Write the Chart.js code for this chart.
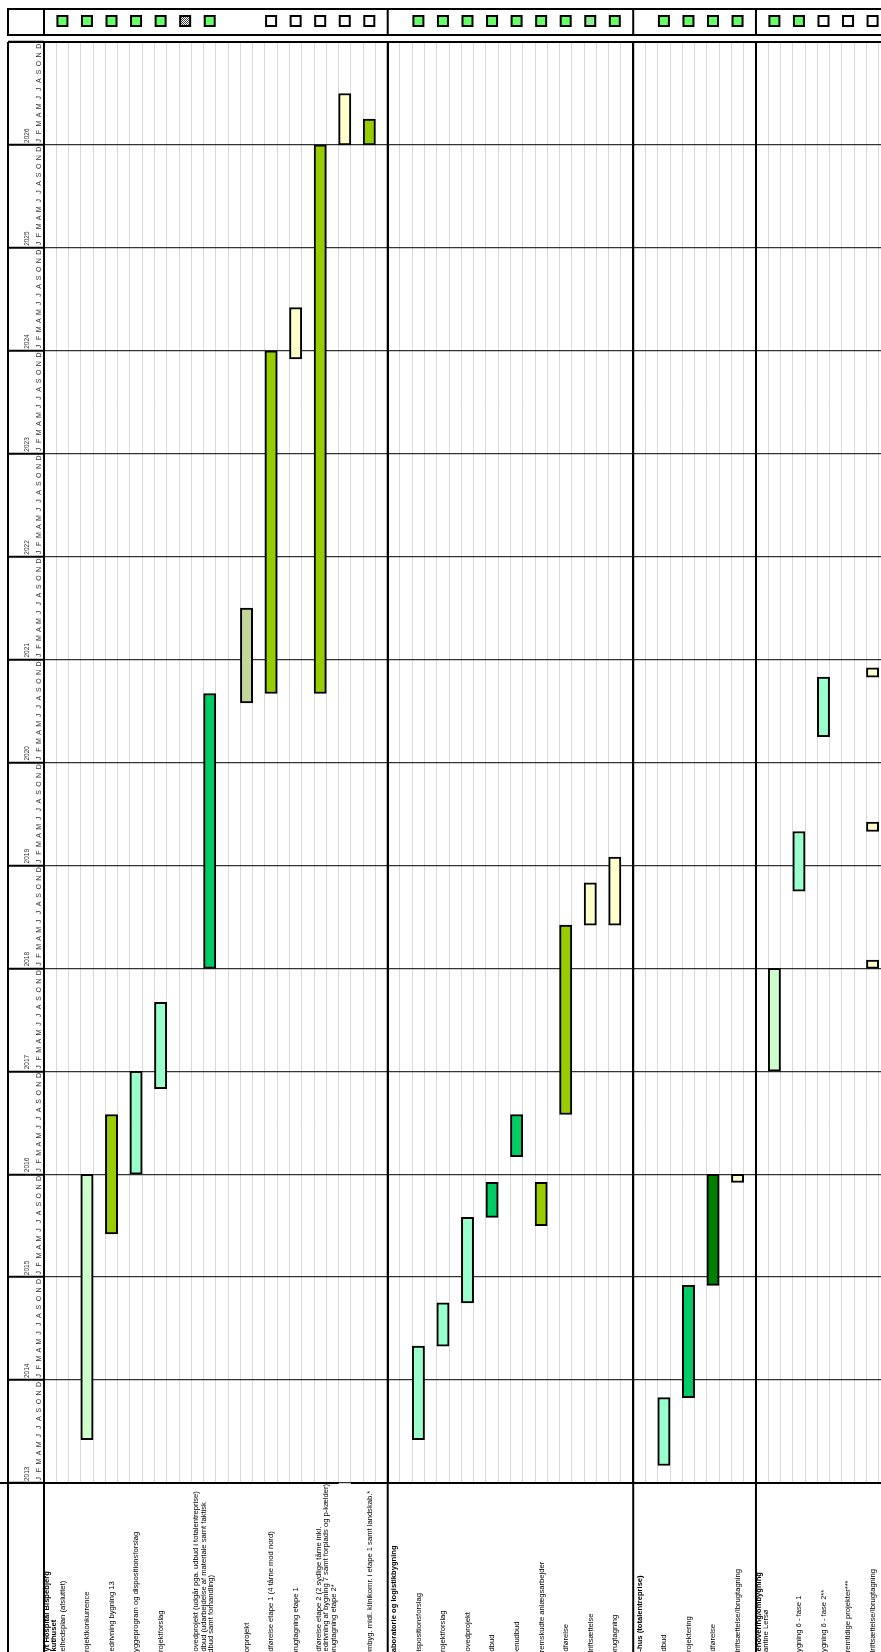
<!DOCTYPE html>
<html>
<head>
<meta charset="utf-8">
<script src="https://cdn.jsdelivr.net/npm/chart.js@4.4.1/dist/chart.umd.min.js"></script>
<style>
  html, body { margin: 0; padding: 0; background: #fff; overflow: hidden; }
  canvas { display: block; }
</style>
</head>
<body>
<canvas id="gantt" width="900" height="1652"></canvas>
<script>
// one category per sheet row
const rowIds = [
  0, 1, 2, 3, 4, 5, 6, 7, 8, 9, 10, 11, 12, 13, 14, 15, 16, 17, 18, 19,
  20, 21, 22, 23, 24, 25, 26, 27, 28, 29, 30, 31, 32, 33, 34, 35, 36, 37, 38, 39,
  40, 41, 42, 43, 44, 45, 46, 47, 48, 49, 50, 51, 52, 53, 54, 55, 56, 57, 58, 59,
  60, 61, 62, 63, 64, 65, 66, 67, 68
];
// first row of each block (Akuthuset, Laboratorie, C-hus, Renovering)
const sectionRows = [0, 28, 48, 58];

const years = [2013, 2014, 2015, 2016, 2017, 2018, 2019, 2020, 2021, 2022, 2023, 2024, 2025, 2026];
const months = ['J', 'F', 'M', 'A', 'M', 'J', 'J', 'A', 'S', 'O', 'N', 'D'];

// row texts (several lines in one cell stack towards the left)
const labelRows = [0, 1, 3, 5, 7, 9, 13, 16, 18, 20, 23, 26,
  28, 30, 32, 34, 36, 38, 40, 42, 44, 46,
  48, 50, 52, 54, 56,
  58, 61, 63, 65, 67];
const labelTexts = [
  ['Nyt Hospital Bispebjerg', 'Akuthuset'],
  ['Helhedsplan (afsluttet)'],
  ['Projektkonkurrence'],
  ['Nedrivning bygning 13'],
  ['Byggeprogram og dispositionsforslag'],
  ['Projektforslag'],
  ['Hovedprojekt (udgår pga. udbud i totalentreprise)', 'Udbud (udarbejdelse af materiale samt faktisk', 'udbud samt forhandling)'],
  ['Forprojekt'],
  ['Udførelse etape 1 (4 tårne mod nord)'],
  ['Ibrugtagning etape 1'],
  ['Udførelse etape 2 (2 sydlige tårne inkl.', 'Nedrivning af bygning 7 samt forplads og p-kælder)', 'Ibrugtagning etape 2*'],
  ['Ombyg. midl. klinikomr. i etape 1 samt landskab.*'],
  ['Laboratorie og logistikbygning'],
  ['Dispositionsforslag'],
  ['Projektforslag'],
  ['Hovedprojekt'],
  ['Udbud'],
  ['Genudbud'],
  ['Fremskudte anlægsarbejder'],
  ['Udførelse'],
  ['Idriftsættelse'],
  ['Ibrugtagning'],
  ['C-hus (totalentreprise)'],
  ['Udbud'],
  ['Projektering'],
  ['Udførelse'],
  ['Idriftsættelse/Ibrugtagning'],
  ['Renovering/ombygning', 'Kantine Lersø'],
  ['Bygning 6 - fase 1'],
  ['Bygning 6 - fase 2**'],
  ['Fremtidige projekter***'],
  ['Idriftsættelse/Ibrugtagning']
];
// which text lines are headings
const headingTexts = ['Nyt Hospital Bispebjerg', 'Akuthuset', 'Laboratorie og logistikbygning',
  'C-hus (totalentreprise)', 'Renovering/ombygning'];

// status boxes in the top strip
const statusRows = [1, 3, 5, 7, 9, 11, 13, 18, 20, 22, 24, 26,
  30, 32, 34, 36, 38, 40, 42, 44, 46,
  50, 52, 54, 56,
  59, 61, 63, 65, 67];
const statusValues = ['done', 'done', 'done', 'done', 'done', 'cancelled', 'done', 'open', 'open', 'open', 'open', 'open',
  'done', 'done', 'done', 'done', 'done', 'done', 'done', 'partial', 'done',
  'done', 'done', 'done', 'done',
  'done', 'done', 'open', 'open', 'open'];

// bars: row, start, end (decimal years), phase
const barRows = [3, 5, 7, 9, 13, 16, 18, 20, 22, 24, 26,
  30, 32, 34, 36, 38, 40, 42, 44, 46,
  50, 52, 54, 56,
  59, 61, 63, 67, 67, 67];
const barStart = [2013.42, 2015.42, 2016.0, 2016.83, 2018.0, 2020.58, 2020.67, 2023.92, 2020.67, 2026.0, 2026.0,
  2013.42, 2014.33, 2014.75, 2015.58, 2016.17, 2015.5, 2016.58, 2018.42, 2018.42,
  2013.17, 2013.83, 2014.92, 2015.92,
  2017.0, 2018.75, 2020.25, 2018.0, 2019.33, 2020.83];
const barEnd = [2016.0, 2016.58, 2017.0, 2017.67, 2020.67, 2021.5, 2024.0, 2024.42, 2026.0, 2026.5, 2026.25,
  2014.33, 2014.75, 2015.58, 2015.92, 2016.58, 2015.92, 2018.42, 2018.83, 2019.08,
  2013.83, 2014.92, 2016.0, 2016.0,
  2018.0, 2019.33, 2020.83, 2018.08, 2019.42, 2020.92];
const barPhase = ['konkurrence', 'udfoerelse', 'forslag', 'forslag', 'udbud', 'forprojekt', 'udfoerelse', 'ibrug', 'udfoerelse', 'ibrug', 'udfoerelse',
  'forslag', 'forslag', 'forslag', 'udbud', 'udbud', 'udfoerelse', 'udfoerelse', 'ibrug', 'ibrug',
  'forslag', 'udbud', 'totalentreprise', 'ibrug',
  'konkurrence', 'forslag', 'forslag', 'ibrug', 'ibrug', 'ibrug'];

const phaseColors = {
  konkurrence: '#ccffcc',
  forslag: '#99ffcc',
  udbud: '#00cc66',
  forprojekt: '#c4d79b',
  udfoerelse: '#99cc00',
  totalentreprise: '#008000',
  ibrug: '#ffffcc'
};

const FONT = '"Liberation Sans", Arial, sans-serif';
const HEADER_TOP = 9, HEADER_BOTTOM = 35;
const BORDER_GAP_ROW = 24; // bottom border is missing under this row

function hatchPattern(ctx) {
  const c = document.createElement('canvas');
  c.width = 2; c.height = 2;
  const g = c.getContext('2d');
  g.fillStyle = '#fff'; g.fillRect(0, 0, 2, 2);
  g.fillStyle = '#444'; g.fillRect(0, 0, 1, 1); g.fillRect(1, 1, 1, 1);
  return ctx.createPattern(c, 'repeat');
}

const sheetFrame = {
  id: 'sheetFrame',
  afterDraw(chart) {
    const ctx = chart.ctx;
    const xs = chart.scales.x;
    const area = chart.chartArea;
    const W = chart.width;
    const H = chart.height;
    const rowW = xs.getPixelForValue(1) - xs.getPixelForValue(0);
    const edge = r => xs.getPixelForValue(r) - rowW / 2;

    ctx.save();
    ctx.strokeStyle = '#000';
    ctx.lineWidth = 2;

    // status strip
    ctx.strokeRect(8, HEADER_TOP, W, HEADER_BOTTOM - HEADER_TOP);
    ctx.beginPath();
    ctx.moveTo(area.left, HEADER_TOP); ctx.lineTo(area.left, HEADER_BOTTOM);
    sectionRows.slice(1).forEach(r => { ctx.moveTo(edge(r), HEADER_TOP); ctx.lineTo(edge(r), HEADER_BOTTOM); });
    ctx.stroke();

    const hatch = hatchPattern(ctx);
    const cy = (HEADER_TOP + HEADER_BOTTOM) / 2 - 1;
    statusRows.forEach((r, i) => {
      const cx = xs.getPixelForValue(r);
      const s = statusValues[i];
      ctx.fillStyle = s === 'open' ? '#fff' : s === 'cancelled' ? hatch : s === 'partial' ? '#8cf08c' : '#66ff66';
      ctx.fillRect(cx - 5, cy - 5, 10, 10);
      ctx.lineWidth = 2;
      ctx.strokeRect(cx - 5, cy - 5, 10, 10);
    });

    // sheet borders
    ctx.lineWidth = 2;
    ctx.beginPath();
    ctx.moveTo(8, area.top); ctx.lineTo(W, area.top);
    ctx.moveTo(0, area.bottom); ctx.lineTo(edge(BORDER_GAP_ROW), area.bottom);
    ctx.moveTo(edge(BORDER_GAP_ROW + 1), area.bottom); ctx.lineTo(W, area.bottom);
    ctx.moveTo(8, area.top); ctx.lineTo(8, H);
    ctx.moveTo(area.left, area.top); ctx.lineTo(area.left, H);
    sectionRows.slice(1).forEach(r => { ctx.moveTo(edge(r), area.top); ctx.lineTo(edge(r), H); });
    ctx.stroke();
    ctx.restore();
  }
};

const sheetText = {
  id: 'sheetText',
  afterDraw(chart) {
    const ctx = chart.ctx;
    const xs = chart.scales.x;
    const ys = chart.scales.y;
    const area = chart.chartArea;
    ctx.save();

    // months and years on the time axis
    ctx.fillStyle = '#333';
    years.forEach(yr => {
      months.forEach((m, i) => {
        const py = ys.getPixelForValue(yr + (i + 0.5) / 12);
        ctx.save();
        ctx.translate(area.left - 5, py);
        ctx.rotate(-Math.PI / 2);
        ctx.font = '7px ' + FONT;
        ctx.textAlign = 'center';
        ctx.textBaseline = 'middle';
        ctx.fillText(m, 0, 0);
        ctx.restore();
      });
      ctx.save();
      ctx.translate(area.left - 17, ys.getPixelForValue(yr) - 2);
      ctx.rotate(-Math.PI / 2);
      ctx.font = '6.5px ' + FONT;
      ctx.textAlign = 'left';
      ctx.textBaseline = 'middle';
      ctx.fillText(String(yr), 0, 0);
      ctx.restore();
    });

    // row texts, read bottom to top (narrow glyphs stretched along the line)
    ctx.fillStyle = '#000';
    labelRows.forEach((r, i) => {
      const lines = labelTexts[i];
      const n = lines.length;
      const cx = xs.getPixelForValue(r) + (n > 2 ? -6 : 0.5);
      lines.forEach((t, j) => {
        const lx = cx + (j - (n - 1) / 2) * 7.3;
        ctx.save();
        ctx.translate(lx, chart.height + 5);
        ctx.rotate(-Math.PI / 2);
        ctx.scale(1.12, 1);
        ctx.font = (headingTexts.includes(t) ? 'bold ' : '') + '6.8px ' + FONT;
        ctx.textAlign = 'left';
        ctx.textBaseline = 'middle';
        ctx.fillText(t, 0, 0);
        ctx.restore();
      });
    });
    ctx.restore();
  }
};

new Chart(document.getElementById('gantt').getContext('2d'), {
  type: 'bar',
  data: {
    labels: rowIds,
    datasets: [{
      data: barRows.map((r, i) => ({ x: r, y: [barStart[i], barEnd[i]] })),
      backgroundColor: c => phaseColors[barPhase[c.dataIndex]],
      borderColor: '#000',
      borderWidth: 2,
      borderSkipped: false,
      barPercentage: 1,
      categoryPercentage: 1
    }]
  },
  options: {
    responsive: false,
    animation: false,
    devicePixelRatio: 1,
    layout: { padding: { top: 42, left: 8, right: 9, bottom: 0 } },
    plugins: { legend: { display: false }, tooltip: { enabled: false } },
    scales: {
      x: {
        offset: true,
        grid: {
          offset: true,
          drawTicks: false,
          color: c => sectionRows.includes(c.index) ? '#000' : '#d9d9d9',
          lineWidth: c => sectionRows.includes(c.index) ? 2 : 1
        },
        border: { display: false },
        ticks: { display: false },
        afterFit: s => { s.height = 169; }
      },
      y: {
        min: 2013,
        max: 2027,
        ticks: { display: false, stepSize: 1 },
        grid: { color: '#333', lineWidth: 1.3, drawTicks: true, tickLength: 36, tickColor: '#000', tickWidth: 2 },
        border: { display: false },
        afterFit: s => { s.width = 36; }
      }
    }
  },
  plugins: [sheetFrame, sheetText]
});
</script>
</body>
</html>
